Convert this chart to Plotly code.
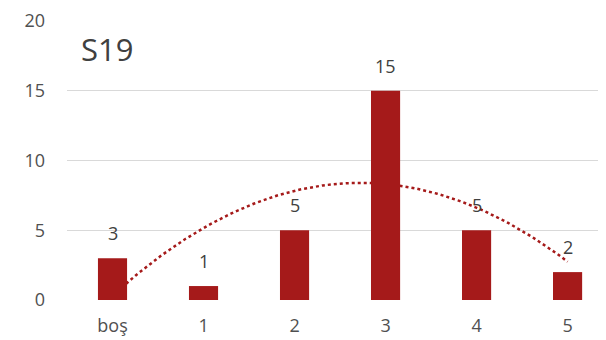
import numpy as np
import plotly.graph_objects as go

categories = ["boş", "1", "2", "3", "4", "5"]
values = [3, 1, 5, 15, 5, 2]
title_text = "S19"

idx = np.arange(len(categories))
# Excel-style 2nd-order polynomial trendline fitted to the data
coef = np.polyfit(idx, values, 2)
xs = np.linspace(idx[0], idx[-1], 200)
ys = np.polyval(coef, xs)

red = "#A51A1A"
FONT = "Open Sans"
fig = go.Figure()
fig.add_trace(go.Scatter(x=xs, y=ys, mode="lines",
                         line=dict(color=red, width=2.5, dash="dot"),
                         zorder=0, hoverinfo="skip", showlegend=False))
fig.add_trace(go.Bar(x=idx, y=values, width=0.32, marker=dict(color=red, line=dict(width=0)),
                     zorder=1, showlegend=False))

for i, v in zip(idx, values):
    fig.add_annotation(x=i, y=v, text=str(v), showarrow=False, yanchor="middle",
                       yshift=25, font=dict(family=FONT, size=18, color="#404040"))

fig.add_annotation(xref="paper", yref="paper", x=0.022, y=0.90, text=title_text,
                   showarrow=False, xanchor="left", yanchor="middle",
                   font=dict(family=FONT, size=31, color="#404040"))

fig.update_layout(
    width=606, height=340,
    margin=dict(l=59, r=0, t=13, b=48),
    paper_bgcolor="white", plot_bgcolor="white",
    font=dict(family=FONT, size=18, color="#505050"),
)
fig.update_xaxes(range=[-0.5, 5.51], tickvals=list(idx), ticktext=categories,
                 showgrid=False, zeroline=False, showline=False, ticks="",
                 ticklabelstandoff=13,
                 tickfont=dict(family=FONT, size=18, color="#505050"))
fig.update_yaxes(range=[0, 20], dtick=5, showgrid=True, gridcolor="#D9D9D9", gridwidth=1,
                 zeroline=False, showline=False, ticks="", ticklabelstandoff=21,
                 tickfont=dict(family=FONT, size=18, color="#505050"))

fig.write_html("out.html")
